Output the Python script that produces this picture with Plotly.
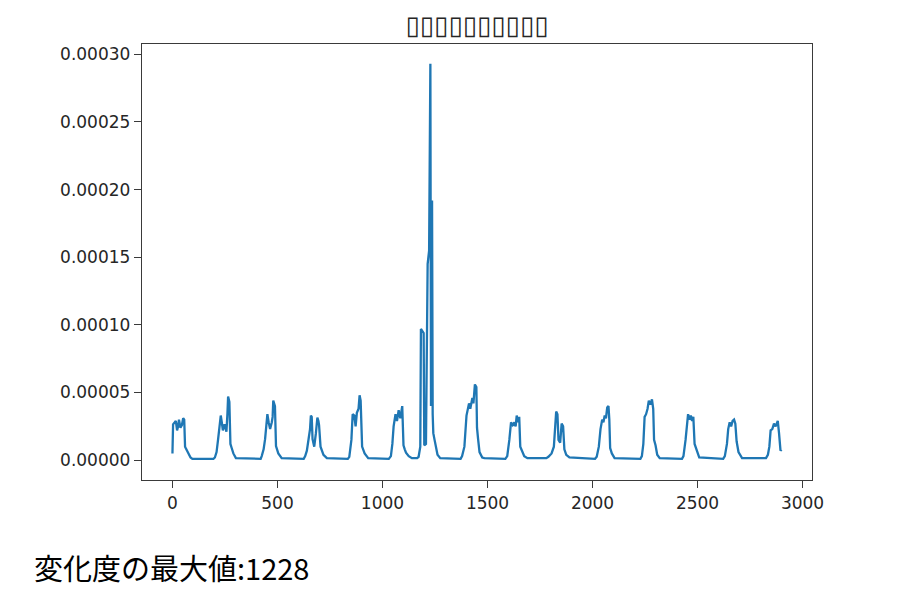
import plotly.graph_objects as go

# ---- data ----
sample_index = [
    0, 3, 11, 16, 22, 27, 31, 38, 45, 51, 56, 60, 66, 74, 86, 95,
    195,
    202, 210, 217, 223, 230, 235, 240, 248, 257, 262, 265, 271, 276, 282, 290, 302,
    420,
    425, 434, 441, 447, 452, 458, 465, 473, 477, 480, 488, 493, 498, 504, 520,
    625,
    632, 640, 648, 655, 659, 663, 667, 675, 683, 690, 695, 698, 705, 712, 719, 735,
    835,
    842, 852, 858, 866, 872, 878, 886, 891, 896, 903, 915, 932,
    1030,
    1040, 1047, 1053, 1062, 1069, 1077, 1085, 1094, 1100, 1106, 1112, 1125, 1140,
    1165,
    1172, 1180, 1183, 1196, 1199, 1207, 1215, 1222, 1228, 1231, 1236, 1239, 1242, 1248, 1255, 1262, 1275,
    1372,
    1379, 1390, 1400, 1405, 1412, 1418, 1428, 1433, 1440, 1447, 1450, 1455, 1462, 1475, 1485,
    1585,
    1594, 1604, 1612, 1620, 1628, 1634, 1639, 1645, 1651, 1656, 1663, 1675, 1690,
    1780,
    1790, 1805, 1816, 1822, 1827, 1833, 1838, 1846, 1853, 1860, 1866, 1875, 1890,
    2012,
    2020, 2030, 2038, 2046, 2052, 2058, 2064, 2070, 2076, 2080, 2084, 2092, 2105,
    2228,
    2235, 2242, 2248, 2255, 2262, 2268, 2275, 2283, 2289, 2293, 2300, 2308, 2320,
    2426,
    2433, 2443, 2449, 2455, 2462, 2468, 2474, 2480, 2486, 2495, 2508,
    2622,
    2630, 2640, 2646, 2653, 2660, 2667, 2674, 2680, 2686, 2695, 2712,
    2826,
    2835, 2842, 2848, 2856, 2864, 2872, 2882, 2888, 2895, 2900,
]

change_rate = [
    5e-6, 2.65e-5, 2.8e-5, 2.9e-5, 2.2e-5, 2.5e-5, 3.0e-5, 2.4e-5, 2.6e-5, 3.1e-5, 3.0e-5, 1.0e-5, 8e-6, 6e-6, 2e-6, 1e-6,
    1e-6,
    2e-6, 6e-6, 1.5e-5, 2.6e-5, 3.3e-5, 2.8e-5, 2.2e-5, 2.65e-5, 2.1e-5, 3.5e-5, 4.7e-5, 4.3e-5, 1.2e-5, 9e-6, 5e-6, 1.5e-6,
    1e-6,
    3e-6, 8e-6, 1.55e-5, 2.6e-5, 3.4e-5, 2.8e-5, 2.3e-5, 2.8e-5, 3.2e-5, 4.4e-5, 4.0e-5, 1.05e-5, 8e-6, 5e-6, 1.5e-6,
    1e-6,
    3e-6, 7e-6, 1.55e-5, 2.3e-5, 3.3e-5, 3.2e-5, 1.55e-5, 1.0e-5, 2.0e-5, 3.15e-5, 2.9e-5, 2.6e-5, 1.0e-5, 6e-6, 4e-6, 1.5e-6,
    1e-6,
    2.5e-6, 1.5e-5, 3.4e-5, 3.3e-5, 2.5e-5, 3.5e-5, 3.8e-5, 4.8e-5, 4.4e-5, 1.0e-5, 5e-6, 1.5e-6,
    1e-6,
    3e-6, 1.2e-5, 2.5e-5, 3.4e-5, 2.9e-5, 3.7e-5, 3.1e-5, 4.0e-5, 1.1e-5, 8e-6, 5.5e-6, 3e-6, 1.5e-6,
    1.5e-6,
    2.5e-6, 1.0e-5, 9.7e-5, 9.4e-5, 1.1e-5, 1.2e-5, 1.45e-4, 1.55e-4, 2.93e-4, 4.0e-5, 1.92e-4, 3.4e-5, 2.0e-5, 1.5e-5, 1.0e-5, 4e-6, 1.5e-6,
    1e-6,
    3e-6, 1.0e-5, 3.3e-5, 3.6e-5, 4.2e-5, 3.8e-5, 4.6e-5, 4.2e-5, 5.6e-5, 5.4e-5, 2.4e-5, 1.6e-5, 6e-6, 2e-6, 1.5e-6,
    1e-6,
    3e-6, 1.5e-5, 2.8e-5, 2.6e-5, 2.8e-5, 2.5e-5, 3.3e-5, 2.8e-5, 3.2e-5, 1.0e-5, 7e-6, 3e-6, 1.5e-6,
    1.5e-6,
    2.5e-6, 5e-6, 1.0e-5, 2.5e-5, 3.6e-5, 3.4e-5, 1.5e-5, 1.3e-5, 2.7e-5, 2.5e-5, 8e-6, 4e-6, 2e-6,
    1e-6,
    2.5e-6, 1.0e-5, 2.3e-5, 3.0e-5, 2.8e-5, 3.3e-5, 3.1e-5, 3.9e-5, 4.0e-5, 3.0e-5, 9e-6, 5e-6, 1.5e-6,
    1e-6,
    3e-6, 1.2e-5, 3.2e-5, 3.4e-5, 3.8e-5, 4.4e-5, 4.1e-5, 4.5e-5, 3.8e-5, 1.5e-5, 1.1e-5, 4e-6, 1.5e-6,
    1e-6,
    3e-6, 1.5e-5, 2.5e-5, 3.4e-5, 3.0e-5, 3.3e-5, 2.9e-5, 3.2e-5, 1.2e-5, 8e-6, 2e-6,
    1e-6,
    3e-6, 1.2e-5, 2.3e-5, 2.8e-5, 2.5e-5, 2.9e-5, 3.0e-5, 2.7e-5, 1.4e-5, 6e-6, 1.5e-6,
    1.5e-6,
    4e-6, 1.0e-5, 2.2e-5, 2.3e-5, 2.7e-5, 2.5e-5, 2.9e-5, 2.0e-5, 7e-6, 8e-6,
]

title_text = "▯▯▯▯▯▯▯▯▯▯"
x_ticks = [0, 500, 1000, 1500, 2000, 2500, 3000]
y_ticks = [0.0, 0.00005, 0.00010, 0.00015, 0.00020, 0.00025, 0.00030]
max_label = "変化度の最大値:1228"

# matplotlib-like 5% margins
xmin, xmax = min(sample_index), max(sample_index)
ymax = max(change_rate)
xpad = (xmax - xmin) * 0.05
ypad = (ymax - 0.0) * 0.05

fig = go.Figure()
fig.add_trace(go.Scatter(
    x=sample_index, y=change_rate, mode="lines",
    line=dict(color="#1f77b4", width=2.3),
    hoverinfo="skip", showlegend=False,
))

axis_common = dict(
    showline=True, mirror=True, linecolor="#3a3a3a", linewidth=1.4,
    ticks="outside", ticklen=7, tickwidth=1.3, tickcolor="#3a3a3a",
    showgrid=False, zeroline=False,
    tickfont=dict(family="DejaVu Sans", size=17, color="#262626"),
)

fig.update_xaxes(range=[xmin - xpad, xmax + xpad], tickvals=x_ticks,
                 ticktext=[str(v) for v in x_ticks], **axis_common)
fig.update_yaxes(range=[0.0 - ypad, ymax + ypad], tickvals=y_ticks,
                 ticktext=[f"{v:.5f}" for v in y_ticks], **axis_common)

# page body has an 8px margin; figure is sized so the plot area lands at 142..812 x 44..480
W, H = 906, 594
fig.update_layout(
    width=W, height=H,
    margin=dict(l=134, r=102, t=36, b=122),
    paper_bgcolor="white", plot_bgcolor="white",
    title=dict(text=title_text, x=0.5, xref="paper", xanchor="center",
               y=1 - 17 / H, yref="container", yanchor="middle",
               font=dict(family="DejaVu Sans", size=26, color="#262626")),
    annotations=[dict(
        text=max_label, xref="paper", yref="paper",
        x=(32 - 142) / 670, y=(480 - 567) / 436,
        xanchor="left", yanchor="middle", showarrow=False,
        font=dict(family="Noto Sans CJK JP", size=29, color="#000000"),
    )],
)

fig.write_html("out.html")
